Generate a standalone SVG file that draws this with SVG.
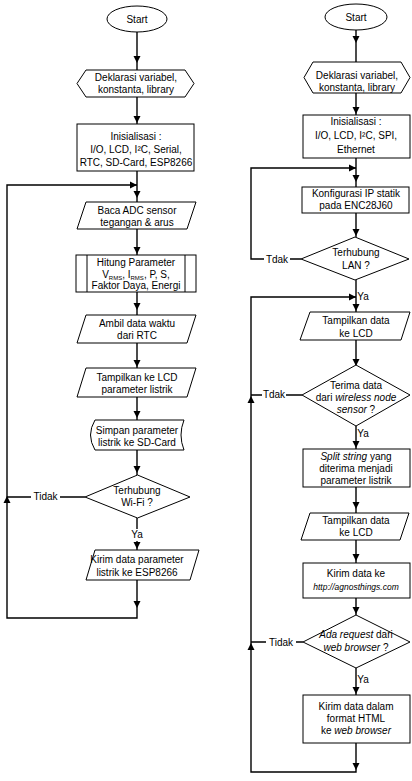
<svg xmlns="http://www.w3.org/2000/svg" width="412" height="781" viewBox="0 0 412 781">
<style>
.s{fill:#fff;stroke:#000;stroke-width:1}
.c{fill:none;stroke:#000;stroke-width:1.4}
text{font-family:"Liberation Sans",Arial,sans-serif;font-size:10px;fill:#000;text-anchor:middle}
.i{font-style:italic}
.sub{font-size:6px}
</style>
<defs>
<path id="ad" d="M0,0 L-3.5,-7 L3.5,-7 Z" fill="#000"/>
</defs>
<rect width="412" height="781" fill="#fff"/>

<g id="connectors">
<!-- left chart -->
<path class="c" d="M137,32 V70 M137,97 V124 M137,171 V202 M137,229 V255 M137,292 V315 M137,343 V368 M137,397 V420 M137,450 V475 M137,518 V529 M137,541 V550 M137,580 V618 H7 V185 H137"/>
<path class="c" d="M85,497 H60 M31,497 H7"/>
<!-- right chart -->
<path class="c" d="M356,30 V62 M356,93 V115 M356,158 V187 M356,213 V237 M356,280 V312 M356,340 V365 M356,426 V449 M356,487 V513 M356,540 V563 M356,598 V615 M356,668 V695 M356,743 V772 H251 V297 H356"/>
<path class="c" d="M301,259 H290 M264,259 H251 V168 H356"/>
<path class="c" d="M302,395 H286 M262,395 H251"/>
<path class="c" d="M303,642 H296 M266,642 H251"/>
<!-- arrowheads left -->
<use href="#ad" transform="translate(137,63)"/>
<use href="#ad" transform="translate(137,123)"/>
<use href="#ad" transform="translate(137,185) rotate(-90)"/>
<use href="#ad" transform="translate(137,198)"/>
<use href="#ad" transform="translate(137,254)"/>
<use href="#ad" transform="translate(137,310)"/>
<use href="#ad" transform="translate(137,367)"/>
<use href="#ad" transform="translate(137,418)"/>
<use href="#ad" transform="translate(137,473)"/>
<use href="#ad" transform="translate(7,496) rotate(180)"/>
<use href="#ad" transform="translate(137,549)"/>
<use href="#ad" transform="translate(137,608)"/>
<!-- arrowheads right -->
<use href="#ad" transform="translate(356,43)"/>
<use href="#ad" transform="translate(356,114)"/>
<use href="#ad" transform="translate(356,168) rotate(-90)"/>
<use href="#ad" transform="translate(356,182)"/>
<use href="#ad" transform="translate(356,236)"/>
<use href="#ad" transform="translate(356,297) rotate(-90)"/>
<use href="#ad" transform="translate(356,311)"/>
<use href="#ad" transform="translate(356,366)"/>
<use href="#ad" transform="translate(251,396) rotate(180)"/>
<use href="#ad" transform="translate(356,448)"/>
<use href="#ad" transform="translate(356,509)"/>
<use href="#ad" transform="translate(356,561)"/>
<use href="#ad" transform="translate(356,614)"/>
<use href="#ad" transform="translate(251,643) rotate(180)"/>
<use href="#ad" transform="translate(356,694)"/>
<use href="#ad" transform="translate(356,770)"/>
<!-- labels -->
<text x="45.5" y="500">Tidak</text>
<text x="137" y="538">Ya</text>
<text x="277" y="263">Tdak</text>
<text x="363" y="300">Ya</text>
<text x="274" y="398">Tdak</text>
<text x="363" y="437">Ya</text>
<text x="281" y="646">Tidak</text>
<text x="363" y="683">Ya</text>
</g>

<!-- LEFT CHART -->
<g id="l-start">
<ellipse class="s" cx="137" cy="19" rx="30" ry="13"/>
<text x="137" y="23">Start</text>
</g>
<g id="l-deklarasi">
<polygon class="s" points="77,83.5 86,70 185,70 194,83.5 185,97 86,97"/>
<text x="136" y="81">Deklarasi variabel,</text>
<text x="136" y="93">konstanta, library</text>
</g>
<g id="l-init">
<rect class="s" x="77" y="124" width="117" height="47"/>
<text x="136" y="140">Inisialisasi :</text>
<text x="136" y="153">I/O, LCD, I²C, Serial,</text>
<text x="136" y="166">RTC, SD-Card, ESP8266</text>
</g>
<g id="l-baca">
<polygon class="s" points="86,202 196,202 187,229 77,229"/>
<text x="137" y="214">Baca ADC sensor</text>
<text x="137" y="226">tegangan &amp; arus</text>
</g>
<g id="l-hitung">
<rect class="s" x="76" y="255" width="120" height="37"/>
<path class="s" d="M87,255 V292 M185,255 V292"/>
<text x="136" y="266">Hitung Parameter</text>
<text x="136" y="278">V<tspan class="sub" dy="1.5">RMS</tspan><tspan dy="-1.5">, I</tspan><tspan class="sub" dy="1.5">RMS</tspan><tspan dy="-1.5">, P, S,</tspan></text>
<text x="136" y="289">Faktor Daya, Energi</text>
</g>
<g id="l-ambil">
<polygon class="s" points="86,315 196,315 187,343 77,343"/>
<text x="137" y="327">Ambil data waktu</text>
<text x="137" y="339">dari RTC</text>
</g>
<g id="l-tampil">
<polygon class="s" points="86,368 196,368 187,397 77,397"/>
<text x="137" y="381">Tampilkan ke LCD</text>
<text x="137" y="393">parameter listrik</text>
</g>
<g id="l-simpan">
<path class="s" d="M95,420 H184 Q178,435 184,450 H95 Q86,435 95,420 Z"/>
<text x="137" y="434">Simpan parameter</text>
<text x="137" y="446">listrik ke SD-Card</text>
</g>
<g id="l-wifi">
<polygon class="s" points="137.5,475 190,497 137.5,518 85,497"/>
<text x="137" y="494">Terhubung</text>
<text x="137" y="506">Wi-Fi ?</text>
</g>
<g id="l-kirim">
<polygon class="s" points="95,550 199,550 190,580 86,580"/>
<text x="137" y="563">Kirim data parameter</text>
<text x="137" y="576">listrik ke ESP8266</text>
</g>

<!-- RIGHT CHART -->
<g id="r-start">
<ellipse class="s" cx="356" cy="17" rx="31" ry="13"/>
<text x="356" y="21">Start</text>
</g>
<g id="r-deklarasi">
<polygon class="s" points="304,77.5 313,62 401,62 410,77.5 401,93 313,93"/>
<text x="357" y="79">Deklarasi variabel,</text>
<text x="357" y="91">konstanta, library</text>
</g>
<g id="r-init">
<rect class="s" x="303" y="115" width="107" height="43"/>
<text x="356" y="125">Inisialisasi :</text>
<text x="356" y="139">I/O, LCD, I²C, SPI,</text>
<text x="356" y="153">Ethernet</text>
</g>
<g id="r-konfig">
<rect class="s" x="302" y="187" width="107" height="26"/>
<text x="356" y="197">Konfigurasi IP statik</text>
<text x="356" y="209">pada ENC28J60</text>
</g>
<g id="r-lan">
<polygon class="s" points="355,237 409,259 355,280 301,259"/>
<text x="356" y="256">Terhubung</text>
<text x="356" y="269">LAN ?</text>
</g>
<g id="r-tampil1">
<polygon class="s" points="310,312 410,312 401,340 300,340"/>
<text x="356" y="324">Tampilkan data</text>
<text x="356" y="337">ke LCD</text>
</g>
<g id="r-terima">
<polygon class="s" points="356,365 410,395 356,426 302,395"/>
<text x="356" y="389">Terima data</text>
<text x="356" y="401">dari <tspan class="i">wireless node</tspan></text>
<text x="356" y="413"><tspan class="i">sensor</tspan> ?</text>
</g>
<g id="r-split">
<rect class="s" x="303" y="449" width="107" height="38"/>
<text x="356" y="460"><tspan class="i">Split string</tspan> yang</text>
<text x="356" y="472">diterima menjadi</text>
<text x="356" y="484">parameter listrik</text>
</g>
<g id="r-tampil2">
<polygon class="s" points="310,513 409,513 400,540 301,540"/>
<text x="356" y="524">Tampilkan data</text>
<text x="356" y="536">ke LCD</text>
</g>
<g id="r-kirim">
<rect class="s" x="303" y="563" width="107" height="35"/>
<text x="356" y="577">Kirim data ke</text>
<text x="356" y="590" class="i" style="font-size:8.5px">http://agnosthings.com</text>
</g>
<g id="r-request">
<polygon class="s" points="356,615 410,642 356,668 303,642"/>
<text x="356" y="638"><tspan class="i">Ada request</tspan> dari</text>
<text x="356" y="651"><tspan class="i">web browser</tspan> ?</text>
</g>
<g id="r-html">
<rect class="s" x="303" y="695" width="107" height="48"/>
<text x="356" y="710">Kirim data dalam</text>
<text x="356" y="722">format HTML</text>
<text x="356" y="734">ke <tspan class="i">web browser</tspan></text>
</g>
</svg>
